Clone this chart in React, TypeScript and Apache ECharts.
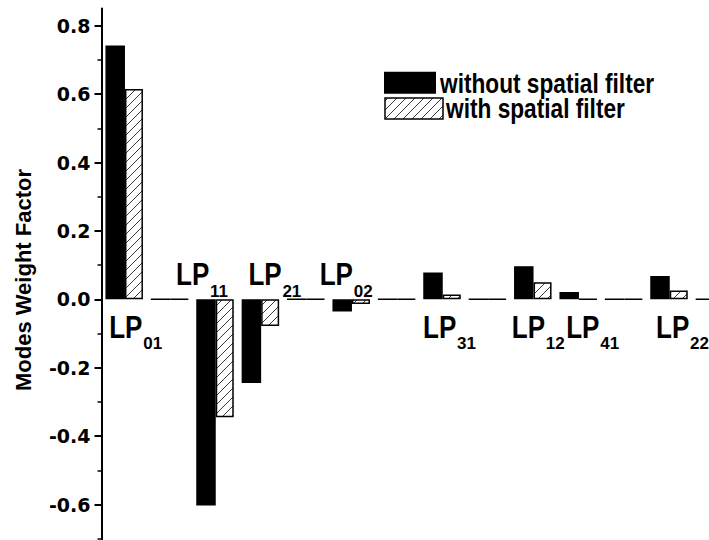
import React, { useEffect, useRef } from "react";
import * as echarts from "echarts";

// Mode slots along the horizontal axis (degenerate LP_lm modes take two slots)
const categories = [
  "LP01", "LP11a", "LP11b", "LP21a", "LP21b", "LP02", "LP31a",
  "LP31b", "LP12a", "LP12b", "LP41a", "LP41b", "LP22a", "LP22b",
];

// Modal weight factors
const withoutFilter = [0.742, 0, -0.603, -0.245, 0, -0.036, 0, 0.078, 0, 0.097, 0.021, 0, 0.068, 0];
const withFilter = [0.615, 0, -0.345, -0.078, 0, -0.014, 0, 0.014, 0, 0.05, 0, 0, 0.026, 0];

// Y-axis ticks
const majorTicks = [-0.6, -0.4, -0.2, 0, 0.2, 0.4, 0.6, 0.8];
const minorTicks = [-0.7, -0.5, -0.3, -0.1, 0.1, 0.3, 0.5, 0.7];

// Mode names written next to their bars
const modeLabels = [
  { slot: "LP01", base: "LP", sub: "01" },
  { slot: "LP11b", base: "LP", sub: "11" },
  { slot: "LP21a", base: "LP", sub: "21" },
  { slot: "LP02", base: "LP", sub: "02" },
  { slot: "LP31b", base: "LP", sub: "31" },
  { slot: "LP12b", base: "LP", sub: "12" },
  { slot: "LP41a", base: "LP", sub: "41" },
  { slot: "LP22a", base: "LP", sub: "22" },
];

const seriesNames = ["without spatial filter", "with spatial filter"];

// Horizontal nudge of each mode name relative to its slot centre (px)
const labelNudge: Record<string, number> = {
  "01": -15, "11": -39, "21": -12, "02": -31.5,
  "31": -19, "12": -21, "41": -12, "22": -13,
};

const SANS = "'Liberation Sans', Arial, sans-serif";
const NARROW_SCALE = 0.84;

function makeHatch(): HTMLCanvasElement {
  const s = 9;
  const c = document.createElement("canvas");
  c.width = s;
  c.height = s;
  const ctx = c.getContext("2d")!;
  ctx.fillStyle = "#fff";
  ctx.fillRect(0, 0, s, s);
  ctx.strokeStyle = "#222";
  ctx.lineWidth = 0.9;
  ctx.beginPath();
  ctx.moveTo(-1, s + 1);
  ctx.lineTo(s + 1, -1);
  ctx.moveTo(-1 - s, s + 1);
  ctx.lineTo(1, -1);
  ctx.moveTo(s - 1, 2 * s + 1);
  ctx.lineTo(2 * s + 1, s - 1);
  ctx.stroke();
  return c;
}

export default function App() {
  const ref = useRef<HTMLDivElement>(null);

  useEffect(() => {
    if (!ref.current) return;
    const chart = echarts.init(ref.current, undefined, { renderer: "svg" });
    const hatch = { image: makeHatch(), repeat: "repeat", imageWidth: 9, imageHeight: 9 } as any;

    const valueOf = (slot: string) => withoutFilter[categories.indexOf(slot)];

    const yMin = -0.8;
    const yMax = 0.85;
    const slotW = 45.4;

    const legendFont = `bold 27px ${SANS}`;

    chart.setOption({
      animation: false,
      backgroundColor: "#fff",
      grid: {
        left: 101.5,
        top: 8.6,
        width: slotW * categories.length,
        height: 564.3,
        containLabel: false,
        outerBoundsMode: "none",
      },
      xAxis: {
        type: "category",
        data: categories,
        show: false,
      },
      yAxis: [
        {
          type: "value",
          min: yMin,
          max: yMax,
          splitLine: { show: false },
          axisLine: { show: true, lineStyle: { color: "#000", width: 2 } },
          axisTick: {
            show: true,
            length: 7,
            inside: false,
            customValues: majorTicks,
            lineStyle: { color: "#000", width: 2 },
          },
          axisLabel: {
            customValues: majorTicks,
            margin: 11,
            color: "#000",
            fontFamily: "'DejaVu Sans', sans-serif",
            fontWeight: "bold",
            fontSize: 19,
            formatter: (v: number) => v.toFixed(1),
          },
        },
        {
          type: "value",
          min: yMin,
          max: yMax,
          position: "left",
          splitLine: { show: false },
          axisLine: { show: false },
          axisLabel: { show: false },
          axisTick: {
            show: true,
            length: 4,
            inside: false,
            customValues: minorTicks,
            lineStyle: { color: "#000", width: 1.5 },
          },
        },
      ],
      graphic: [
        {
          type: "text",
          x: 23,
          y: 280,
          rotation: Math.PI / 2,
          style: {
            text: "Modes Weight Factor",
            font: `bold 22px ${SANS}`,
            fill: "#000",
            textAlign: "center",
            textVerticalAlign: "middle",
          },
        },
        // legend keys and their texts
        {
          type: "rect",
          shape: { x: 384, y: 71.7, width: 52, height: 22 },
          style: { fill: "#000" },
        },
        {
          type: "text",
          x: 440,
          y: 83,
          scaleX: NARROW_SCALE,
          style: {
            text: seriesNames[0],
            font: legendFont,
            fill: "#000",
            textAlign: "left",
            textVerticalAlign: "middle",
          },
        },
        {
          type: "rect",
          shape: { x: 385, y: 98, width: 58, height: 21 },
          style: { fill: hatch, stroke: "#000", lineWidth: 1.5 },
        },
        {
          type: "text",
          x: 446,
          y: 108.5,
          scaleX: NARROW_SCALE,
          style: {
            text: seriesNames[1],
            font: legendFont,
            fill: "#000",
            textAlign: "left",
            textVerticalAlign: "middle",
          },
        },
      ],
      series: [
        {
          name: seriesNames[0],
          type: "bar",
          data: withoutFilter,
          barWidth: 19.5,
          barGap: "0%",
          itemStyle: { color: "#000", borderColor: "#000", borderWidth: 1.5 },
        },
        {
          name: seriesNames[1],
          type: "bar",
          data: withFilter,
          barWidth: 18,
          barGap: "0%",
          itemStyle: { color: hatch, borderColor: "#000", borderWidth: 1.5 },
        },
        {
          type: "custom",
          silent: true,
          clip: false,
          data: modeLabels.map((m) => [m.slot, 0]),
          renderItem: (params: any, api: any) => {
            const m = modeLabels[params.dataIndex];
            const p = api.coord([api.value(0), 0]);
            const above = valueOf(m.slot) < 0;
            const x = p[0] + labelNudge[m.sub];
            // cap top of "LP" sits 36px above or 16px below the zero line
            const capTop = above ? p[1] - 36.3 : p[1] + 16.2;
            const lpSize = 31;
            const subSize = 17;
            return {
              type: "group",
              children: [
                {
                  type: "text",
                  x,
                  y: capTop - 0.134 * lpSize,
                  scaleX: NARROW_SCALE,
                  style: {
                    text: m.base,
                    font: `bold ${lpSize}px ${SANS}`,
                    fill: "#000",
                    textAlign: "left",
                    textVerticalAlign: "top",
                  },
                },
                {
                  type: "text",
                  x: x + 34,
                  y: capTop + 22 - 0.134 * subSize,
                  style: {
                    text: m.sub,
                    font: `bold ${subSize}px ${SANS}`,
                    fill: "#000",
                    textAlign: "left",
                    textVerticalAlign: "top",
                  },
                },
              ],
            };
          },
        },
      ],
    });

    return () => chart.dispose();
  }, []);

  return (
    <div
      ref={ref}
      style={{ position: "absolute", left: 0, top: 0, width: 709, height: 540, overflow: "hidden" }}
    />
  );
}
